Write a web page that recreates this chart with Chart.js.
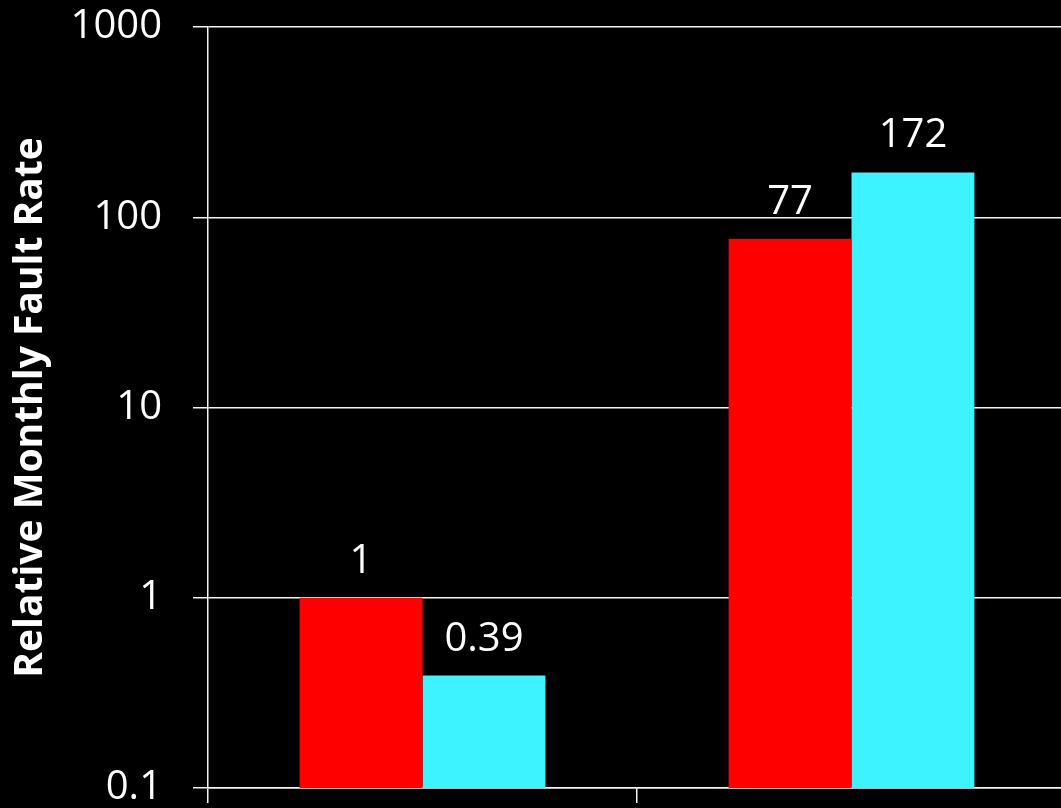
<!DOCTYPE html>
<html>
<head>
<meta charset="utf-8">
<script src="https://cdn.jsdelivr.net/npm/chart.js@4/dist/chart.umd.min.js"></script>
<style>
  html, body { margin: 0; padding: 0; background: #000; overflow: hidden; }
  #wrap { width: 1066px; height: 808px; }
</style>
</head>
<body>
<div id="wrap"><canvas id="chart"></canvas></div>
<script>
/* Relative monthly fault rate — log bar chart, two groups */
const CATEGORIES = ["A", "B"];
const SERIES_RED = [1, 77];
const SERIES_CYAN = [0.39, 172];
const VALUE_LABELS_RED = ["1", "77"];
const VALUE_LABELS_CYAN = ["0.39", "172"];
const Y_TICKS = [0.1, 1, 10, 100, 1000];
const Y_TITLE = "Relative Monthly Fault Rate";

const FONT = "'Open Sans', 'DejaVu Sans', sans-serif";

// value labels above each bar
const barLabels = {
  id: 'barLabels',
  afterDatasetsDraw(chart){
    const ctx = chart.ctx;
    const texts = [VALUE_LABELS_RED, VALUE_LABELS_CYAN];
    ctx.save();
    ctx.fillStyle = '#fff';
    ctx.font = '40px ' + FONT;
    ctx.textAlign = 'center';
    ctx.textBaseline = 'alphabetic';
    chart.data.datasets.forEach((ds, di) => {
      chart.getDatasetMeta(di).data.forEach((bar, i) => {
        ctx.fillText(texts[di][i], bar.x, bar.y - 25);
      });
    });
    ctx.restore();
  }
};

new Chart(document.getElementById('chart'), {
  type: 'bar',
  data: {
    labels: CATEGORIES,
    datasets: [
      { label: 'red', data: SERIES_RED, backgroundColor: '#ff0000' },
      { label: 'cyan', data: SERIES_CYAN, backgroundColor: '#3df3ff' }
    ]
  },
  options: {
    responsive: true,
    maintainAspectRatio: false,
    animation: false,
    categoryPercentage: 0.573,
    barPercentage: 1,
    layout: { padding: { top: 27, bottom: 5, left: 0, right: 0 } },
    plugins: { legend: { display: false }, tooltip: { enabled: false } },
    scales: {
      x: {
        ticks: { display: false },
        grid: { drawOnChartArea: false, drawTicks: true, tickLength: 15, color: '#f4f4f4', lineWidth: 1.5 },
        border: { display: true, color: '#f4f4f4', width: 1.5 }
      },
      y: {
        type: 'logarithmic',
        min: 0.1,
        max: 1000,
        afterBuildTicks: s => { s.ticks = Y_TICKS.map(v => ({ value: v })); },
        afterFit: s => { s.width = 208; s.paddingTop = 0; s.paddingBottom = 0; },
        ticks: {
          color: '#fff',
          padding: 31,
          font: { family: FONT, size: 40, lineHeight: 1 },
          callback: v => String(v)
        },
        grid: { color: '#f4f4f4', lineWidth: 1.5, tickLength: 15 },
        border: { display: true, color: '#f4f4f4', width: 1.5 },
        title: {
          display: true,
          text: Y_TITLE,
          color: '#fff',
          font: { family: FONT, size: 39, weight: 'bold', lineHeight: 1.2 },
          padding: { top: 7, bottom: 0 }
        }
      }
    }
  },
  plugins: [barLabels]
});
</script>
</body>
</html>
